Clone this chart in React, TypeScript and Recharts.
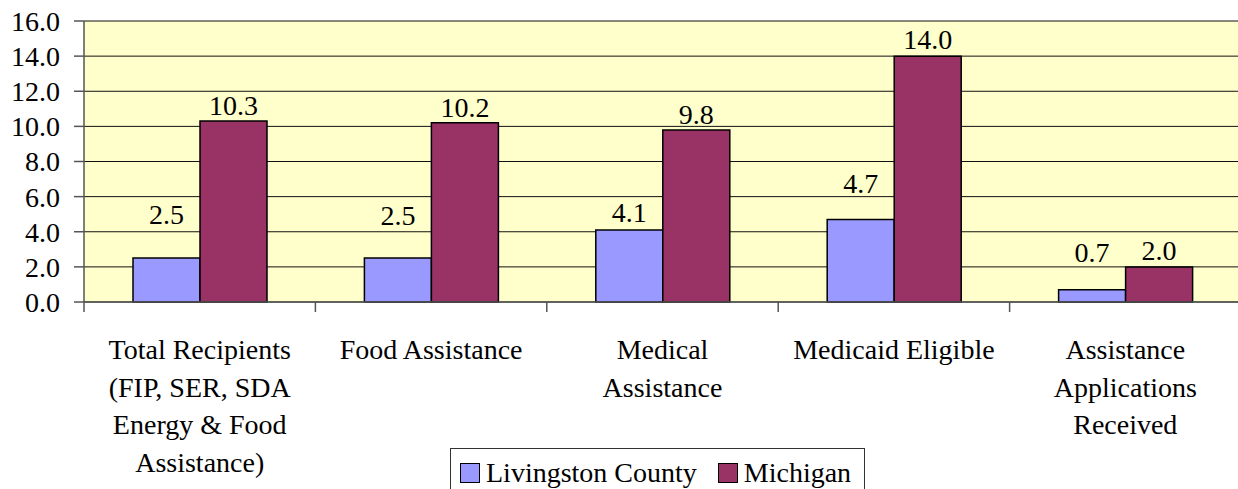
import React from "react";
import { BarChart, Bar, XAxis, YAxis, CartesianGrid, Legend, LabelList } from "recharts";

const categories = [
  "Total Recipients\n(FIP, SER, SDA\nEnergy & Food\nAssistance)",
  "Food Assistance",
  "Medical\nAssistance",
  "Medicaid Eligible",
  "Assistance\nApplications\nReceived",
];
const livingston = [2.5, 2.5, 4.1, 4.7, 0.7];
const michigan = [10.3, 10.2, 9.8, 14.0, 2.0];
const yTicks = [0, 2, 4, 6, 8, 10, 12, 14, 16];
const seriesNames = ["Livingston County", "Michigan"];
const colors = ["#9999FF", "#993366"];
// how far above the bar top each value label sits (style only)
const livingstonLabelLift = [43, 42, 17, 35, 37];
const michiganLabelLift = [15, 15, 15, 16, 16];

const data = categories.map((c, i) => ({ name: c, liv: livingston[i], mi: michigan[i] }));

const FONT = '"Liberation Serif", "Times New Roman", serif';
const FS = 28;

const CategoryTick = (props: any) => {
  const { x, y, payload } = props;
  const lines = String(payload.value).split("\n");
  const off = payload.offset || 0;
  return (
    <g>
      <line x1={x - off} y1={y - 8} x2={x - off} y2={y + 2} stroke="#555" strokeWidth={1.5} />
      {payload.index === categories.length - 1 && (
        <line x1={x + off} y1={y - 8} x2={x + off} y2={y + 2} stroke="#555" strokeWidth={1.5} />
      )}
      <text x={x} y={y} textAnchor="middle" fontFamily={FONT} fontSize={FS} fill="#000">
        {lines.map((l, i) => (
          <tspan key={i} x={x} y={y + 49 + i * 37.7}>
            {l}
          </tspan>
        ))}
      </text>
    </g>
  );
};

const makeLabel = (lifts: number[]) => (props: any) => {
  const { x, y, width, value, index } = props;
  return (
    <text
      x={x + width / 2}
      y={y - lifts[index] + 9}
      textAnchor="middle"
      fontFamily={FONT}
      fontSize={FS}
      fill="#000"
    >
      {Number(value).toFixed(1)}
    </text>
  );
};

const LegendBox = () => (
  <div
    style={{
      border: "1.5px solid #333",
      background: "#fff",
      width: 415,
      height: 60,
      boxSizing: "border-box",
      fontFamily: FONT,
      fontSize: FS,
      color: "#000",
      display: "flex",
      flexWrap: "nowrap",
      whiteSpace: "nowrap",
      alignItems: "flex-start",
      paddingLeft: 9,
      paddingTop: 9,
    }}
  >
    {seriesNames.map((n, i) => (
      <div
        key={n}
        style={{ display: "flex", alignItems: "center", marginRight: i === 0 ? 21 : 0, flexShrink: 0, whiteSpace: "nowrap" }}
      >
        <span
          style={{
            display: "inline-block",
            width: 20,
            height: 20,
            flexShrink: 0,
            background: colors[i],
            border: "1.5px solid #000",
            boxSizing: "border-box",
            marginRight: 6,
          }}
        />
        <span style={{ lineHeight: "30px", whiteSpace: "nowrap" }}>{n}</span>
      </div>
    ))}
  </div>
);

export default function App() {
  return (
    <div
      style={{
        position: "absolute",
        left: 0,
        top: 0,
        width: 1238,
        height: 489,
        overflow: "hidden",
        background: "#fff",
      }}
    >
      <BarChart
        width={1260}
        height={489}
        data={data}
        margin={{ top: 21, right: 19, left: 0, bottom: 0 }}
        barCategoryGap={49}
        barGap={0}
      >
        <CartesianGrid vertical={false} fill="#FFFFCC" stroke="#111" strokeWidth={1} fillOpacity={1} />
        <XAxis
          dataKey="name"
          height={187}
          interval={0}
          tick={<CategoryTick />}
          tickLine={false}
          axisLine={{ stroke: "#555", strokeWidth: 1.5 }}
        />
        <YAxis
          width={84}
          domain={[0, 16]}
          ticks={yTicks}
          interval={0}
          tickFormatter={(v: number) => v.toFixed(1)}
          tickSize={10}
          tickMargin={14}
          tick={{ fontFamily: FONT, fontSize: FS, fill: "#000" }}
          axisLine={{ stroke: "#555", strokeWidth: 1.5 }}
          tickLine={{ stroke: "#555", strokeWidth: 1.5 }}
        />
        <Legend
          layout="horizontal"
          verticalAlign="middle"
          content={<LegendBox />}
          wrapperStyle={{ left: 450, top: 448, width: 415, height: 60 }}
        />
        <Bar dataKey="liv" name={seriesNames[0]} fill={colors[0]} stroke="#000" strokeWidth={1.5} isAnimationActive={false}>
          <LabelList dataKey="liv" content={makeLabel(livingstonLabelLift)} />
        </Bar>
        <Bar dataKey="mi" name={seriesNames[1]} fill={colors[1]} stroke="#000" strokeWidth={1.5} isAnimationActive={false}>
          <LabelList dataKey="mi" content={makeLabel(michiganLabelLift)} />
        </Bar>
      </BarChart>
    </div>
  );
}
